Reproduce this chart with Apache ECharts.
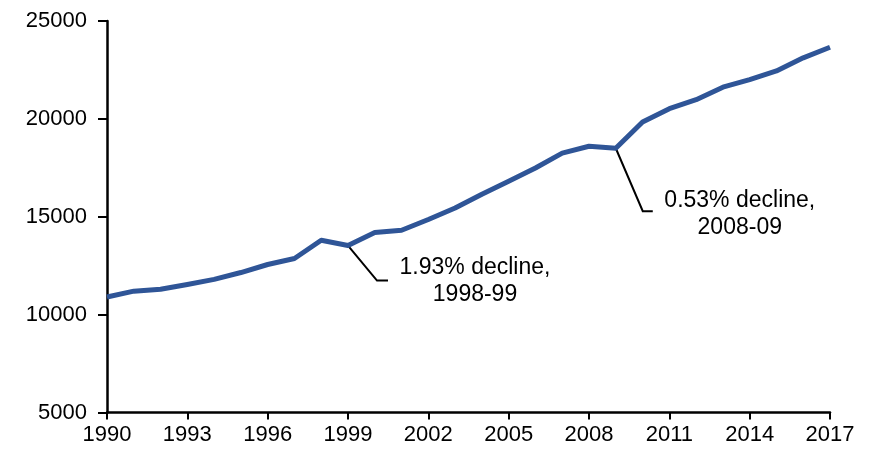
<!DOCTYPE html>
<html>
<head>
<meta charset="utf-8">
<script src="https://cdn.jsdelivr.net/npm/echarts@6/dist/echarts.min.js"></script>
<style>
  html, body { margin: 0; padding: 0; background: #fff; }
  #chart { width: 870px; height: 451px; }
</style>
</head>
<body>
<div id="chart"></div>
<script>
// Years on the horizontal axis
const years = ['1990','1991','1992','1993','1994','1995','1996','1997','1998','1999',
  '2000','2001','2002','2003','2004','2005','2006','2007','2008','2009',
  '2010','2011','2012','2013','2014','2015','2016','2017'];

// Annual values
const values = [10900, 11200, 11300, 11540, 11800, 12150, 12560, 12870, 13800, 13530,
  14190, 14310, 14860, 15450, 16150, 16810, 17490, 18250, 18600, 18500,
  19840, 20520, 20980, 21620, 22010, 22450, 23120, 23660];

// Vertical axis range and step
const yTicks = [5000, 10000, 15000, 20000, 25000];

// Callouts: year at which the leader line starts, and its two text lines
const callouts = [
  { year: '1999', lines: ['1.93% decline,', '1998-99'], dx: 29, dy: 35, run: 11, textDx: 127, textDy: 36 },
  { year: '2009', lines: ['0.53% decline,', '2008-09'], dx: 27, dy: 63, run: 10, textDx: 124, textDy: 66 }
];

const FONT = 'Liberation Sans, Arial, sans-serif';
const chart = echarts.init(document.getElementById('chart'), null, { renderer: 'canvas' });

chart.setOption({
  animation: false,
  backgroundColor: '#ffffff',
  grid: { left: 107, right: 40, top: 21, bottom: 38.5 },
  xAxis: {
    type: 'category',
    data: years,
    boundaryGap: false,
    axisLine: { lineStyle: { color: '#000', width: 2.5 } },
    axisTick: { show: true, interval: 2, length: 7, lineStyle: { color: '#000', width: 2 } },
    axisLabel: { interval: 2, color: '#000', fontSize: 22, fontFamily: FONT, margin: 11 },
    splitLine: { show: false }
  },
  yAxis: {
    type: 'value',
    min: yTicks[0],
    max: yTicks[yTicks.length - 1],
    interval: yTicks[1] - yTicks[0],
    axisLine: { show: true, lineStyle: { color: '#000', width: 2.5 } },
    axisTick: { show: true, length: 9, lineStyle: { color: '#000', width: 2 } },
    axisLabel: { color: '#000', fontSize: 22, fontFamily: FONT, margin: 20, formatter: v => String(v) },
    splitLine: { show: false }
  },
  series: [{
    type: 'line',
    data: values,
    symbol: 'none',
    lineStyle: { color: '#2F5597', width: 5, join: 'round' },
    z: 3
  }]
});

// Leader lines and callout text placed from the data points
function drawCallouts() {
  const elements = [];
  callouts.forEach(c => {
    const i = years.indexOf(c.year);
    const p = chart.convertToPixel({ seriesIndex: 0 }, [i, values[i]]);
    const x1 = p[0] + c.dx, y1 = p[1] + c.dy;
    elements.push({
      type: 'polyline',
      shape: { points: [[p[0], p[1]], [x1, y1], [x1 + c.run, y1]] },
      style: { stroke: '#000', lineWidth: 2, fill: null },
      z: 2
    });
    elements.push({
      type: 'text',
      x: p[0] + c.textDx,
      y: p[1] + c.textDy,
      style: {
        text: c.lines.join('\n'),
        font: '23px ' + FONT,
        fill: '#000',
        align: 'center',
        verticalAlign: 'middle',
        lineHeight: 27
      },
      z: 4
    });
  });
  chart.setOption({ graphic: elements });
}
drawCallouts();
</script>
</body>
</html>
